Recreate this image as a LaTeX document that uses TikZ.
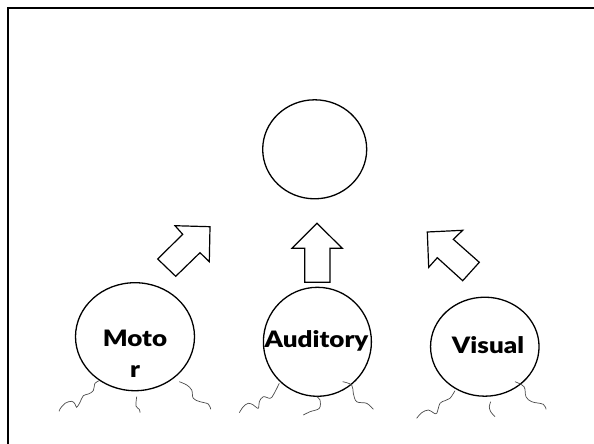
\documentclass[tikz,border=0pt]{standalone}
\usepackage{fontspec}
\setmainfont{Lato}
\newfontfamily\lblfont[FakeStretch=1.15]{Lato Black}
\usetikzlibrary{shapes.geometric}
\tikzset{
  blob/.style={draw=black, line width=1.3pt, ellipse, inner sep=0pt},
  lbl/.style={font=\lblfont\fontsize{22.6}{31.3}\selectfont, inner sep=0pt, align=center},
  blockarrow/.style={draw=black, line width=1.2pt, fill=white, line join=miter},
  squig/.style={draw=black!70, line width=0.7pt},
  frame/.style={draw=black, line width=2.6pt}
}
\begin{document}
\begin{tikzpicture}[x=1pt,y=-1pt]
\useasboundingbox (0,0) rectangle (594,444);
\fill[white] (0,0) rectangle (594,444);
% open frame: only the left and top edges are inside the page
\draw[frame] (8,460) -- (8,8) -- (610,8);

% circles
\node[blob, minimum width=104pt, minimum height=99pt] (top) at (314.7,149.3) {};
\node[blob, minimum width=119pt, minimum height=108pt] (motor) at (135,336.7) {};
\node[blob, minimum width=108pt, minimum height=109pt] (aud) at (317.4,341.8) {};
\node[blob, minimum width=108.5pt, minimum height=99pt] (vis) at (484.8,346.7) {};

% labels (base anchor of a two-line node sits on its last line)
\node[lbl, anchor=base] (motorlbl) at (135,377.3) {Moto\\r};
\node[lbl, anchor=base] (audlbl) at (316.5,347.3) {Auditory};
\node[lbl, anchor=base] (vislbl) at (488,353.3) {Visual};

% block arrows towards the top circle
\draw[blockarrow] (175,225.7) -- (210,226.7) -- (209.3,261.7) -- (200,252.7)
  -- (175.7,276.3) -- (157.7,259) -- (182.7,234.3) -- cycle;
\draw[blockarrow] (317,223.3) -- (342.3,248.3) -- (330,248.3) -- (330,282.3)
  -- (304.7,282.3) -- (304.7,248.3) -- (292,248.3) -- cycle;
\draw[blockarrow] (427.3,232) -- (462.7,230.3) -- (453.3,239.3) -- (479.3,262.3)
  -- (462.7,280.7) -- (437.3,257.7) -- (428.7,267.3) -- cycle;

% wavy strands under each circle
\draw[squig] plot[smooth, tension=0.6] coordinates {(99.3,380.7) (95,383.3) (93.3,390.7) (88.3,394) (83.3,395.7) (80,402.3) (76.7,407.3) (75,404) (71.7,401.3) (65,403.3) (60,409) (59.3,411.3)};
\draw[squig] plot[smooth, tension=0.6] coordinates {(136.7,396.7) (136,406) (139.3,409.3) (140,412.7)};
\draw[squig] plot[smooth, tension=0.6] coordinates {(179.3,381.7) (186.7,385) (191.7,390) (193.3,398.3) (200,401.7) (208.3,404) (210.7,409.3)};

\draw[squig] plot[smooth, tension=0.6] coordinates {(279.3,383.3) (273.3,395) (270,398.3) (263.3,396.7) (259.3,401.7) (258.3,408.3) (253.3,405) (248.3,403.3) (243.3,406.7) (239.3,412.7)};
\draw[squig] plot[smooth, tension=0.6] coordinates {(316.7,396.7) (320,400) (319.3,408.3) (310,411.7) (303.3,415)};
\draw[squig] plot[smooth, tension=0.6] coordinates {(342.7,381.7) (351.7,385) (353.3,393.3) (356.7,401.7) (366.7,403.3) (373.3,409.3)};

\draw[squig] plot[smooth, tension=0.6] coordinates {(455,390.7) (450,398.3) (445,400.7) (440,403.3) (436.7,413.3) (433.3,412.7) (428.3,410) (421.7,412.7) (416.7,418.3)};
\draw[squig] plot[smooth, tension=0.6] coordinates {(490.7,401.7) (489.3,406.7) (490.7,411.7) (495,416.7)};
\draw[squig] plot[smooth, tension=0.6] coordinates {(515,381.7) (524,386.7) (526,396.7) (531.7,401.7) (543.3,404.3) (546,409.3)};
\end{tikzpicture}
\end{document}
